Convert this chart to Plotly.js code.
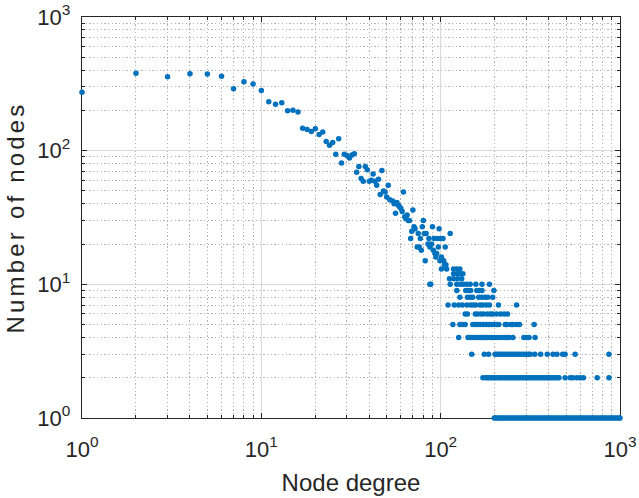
<!DOCTYPE html>
<html>
<head>
<meta charset="utf-8">
<script src="https://cdn.plot.ly/plotly-3.0.1.min.js"></script>
<style>html,body{margin:0;padding:0;background:#fff;}#chart{width:639px;height:498px;}</style>
</head>
<body>
<div id="chart"></div>
<script>
// Scattered head of the distribution: degree -> number of nodes
const headDegree = [1,2,3,4,5,6,7,8,9,10,11,12,13,14,15,16,17,18,19,20,21,22,23,24,25,26,27,28,29,30,31,32,33,34,35,36,37,38,39,40,41,42,43,44,45,46,47,48,49,50,51,52,54,55,56,57,58,59,60,61,62,63,64,65,66,67,68,69,70,71,72,74,75,76,77,78,79,80,81,82,83,85,86,87,88,89,90,91,92,93,94,95,96,97,98,99,100,101,103,104,105,106,107,108,113];
const headNodes  = [274,379,357,376,374,360,290,328,315,282,232,222,228,199,201,195,147,144,139,146,132,138,117,110,115,94,123,81,94,92,88,93,95,69,76,62,59,76,72,59,60,67,59,55,61,47,71,50,49,45,55,43,42,40,34,41,39,38,37,35,49,32,31,33,30,30,22,25,36,27,26,19,24,19,22,18,27,30,24,15,24,20,22,19,10,20,27,18,22,17,16,17,22,19,26,15,22,16,22,15,14,19,14,13,24];

// Discrete tail: degrees that have exactly N nodes
const tailCounts = [1,2,3,4,5,6,7,8,9,10,11,12,13];
const degWith1  = [199,203,208,212,217,222,227,232,238,243,249,255,261,267,273,280,286,293,300,307,314,322,329,337,345,353,362,370,379,388,397,407,416,426,436,447,457,468,479,491,502,514,526,539,552,565,578,592,606,620,635,650,665,681,697,713,730,748,765,784,802,821,841,861,881,902,923,945,968,991,1000];
const degWith2  = [172,178,182,186,191,195,200,205,210,215,220,226,231,237,243,249,255,261,268,274,281,288,295,302,310,317,325,333,341,349,358,367,376,385,395,405,415,425,435,446,457,494,527,545,574,599,625,746,868];
const degWith3  = [149,175,185,201,205,210,215,221,227,233,239,246,253,260,267,275,283,291,300,309,316,335,361,393,423,445,479,494,562,868];
const degWith4  = [126,142,146,150,156,161,166,171,177,182,188,194,201,208,216,226,234,241,253,291,301,311,336];
const degWith5  = [117,128,133,137,151,156,160,166,173,180,186,193,199,205,211,229,234,246,253,265,275,332];
const degWith6  = [137,141,156,160,167,173,182,189,195,205,216,226,236];
const degWith7  = [110,119,126,132,140,147,152,157,166,172,180,187,210,265];
const degWith8  = [128,141,146,151,163,170,177,183,195];
const degWith9  = [123,138,143,147,159,164,170,198];
const degWith10 = [87,113,123,129,134,140,146,157,170,187];
const degWith11 = [112,118,124,131];
const degWith12 = [118,124,128,133];
const degWith13 = [101,118,123,128];

const tailDegrees = [degWith1,degWith2,degWith3,degWith4,degWith5,degWith6,degWith7,degWith8,degWith9,degWith10,degWith11,degWith12,degWith13];

const decadeVals = [1,10,100,1000];
const decadeText = ['10<sup>0</sup>','10<sup>1</sup>','10<sup>2</sup>','10<sup>3</sup>'];

const xs = headDegree.slice();
const ys = headNodes.slice();
tailDegrees.forEach((list, i) => {
  list.forEach(d => { xs.push(d); ys.push(tailCounts[i]); });
});

const minorVals = [];
[1,10,100].forEach(b => { for (let k = 2; k <= 9; k++) minorVals.push(b*k); });

const fam = 'Liberation Sans, Arial, Helvetica, sans-serif';

const axisCommon = {
  type: 'log',
  range: [0, 3],
  tickmode: 'array',
  tickvals: decadeVals,
  ticktext: decadeText,
  ticks: 'inside',
  ticklen: 5,
  tickwidth: 1,
  tickcolor: '#262626',
  showline: true,
  linecolor: '#262626',
  linewidth: 1.3,
  mirror: 'allticks',
  showgrid: true,
  gridcolor: '#d9d9d9',
  gridwidth: 1,
  zeroline: false,
  layer: 'below traces',
  ticklabeloverflow: 'allow',
  tickfont: {family: fam, size: 22, color: '#262626'},
  minor: {
    tickmode: 'array',
    tickvals: minorVals,
    ticks: 'inside',
    ticklen: 3,
    tickcolor: '#262626',
    showgrid: true,
    gridcolor: '#b3b3b3',
    griddash: '1.3px,2.4px',
    gridwidth: 1
  }
};

const layout = {
  width: 639,
  height: 498,
  margin: {l: 82, r: 19, t: 17, b: 80},
  paper_bgcolor: '#ffffff',
  plot_bgcolor: '#ffffff',
  showlegend: false,
  xaxis: Object.assign({}, axisCommon, {
    ticklabelstandoff: 11,
    title: {text: 'Node degree', font: {family: fam, size: 24, color: '#262626'}, standoff: 13}
  }),
  yaxis: Object.assign({}, axisCommon, {
    ticklabelstandoff: 6,
    title: {text: 'Number of nodes', font: {family: fam, size: 24, color: '#262626'}, standoff: 6}
  })
};

const trace = {
  x: xs,
  y: ys,
  type: 'scatter',
  mode: 'markers',
  cliponaxis: false,
  marker: {color: '#0072BD', size: 5.5, line: {width: 0}},
  hoverinfo: 'x+y'
};

Plotly.newPlot('chart', [trace], layout, {displayModeBar: false, staticPlot: true}).then(gd => {
  const yt = gd.querySelector('.ytitle');
  if (yt) yt.style.letterSpacing = '3.2px';
});
</script>
</body>
</html>
